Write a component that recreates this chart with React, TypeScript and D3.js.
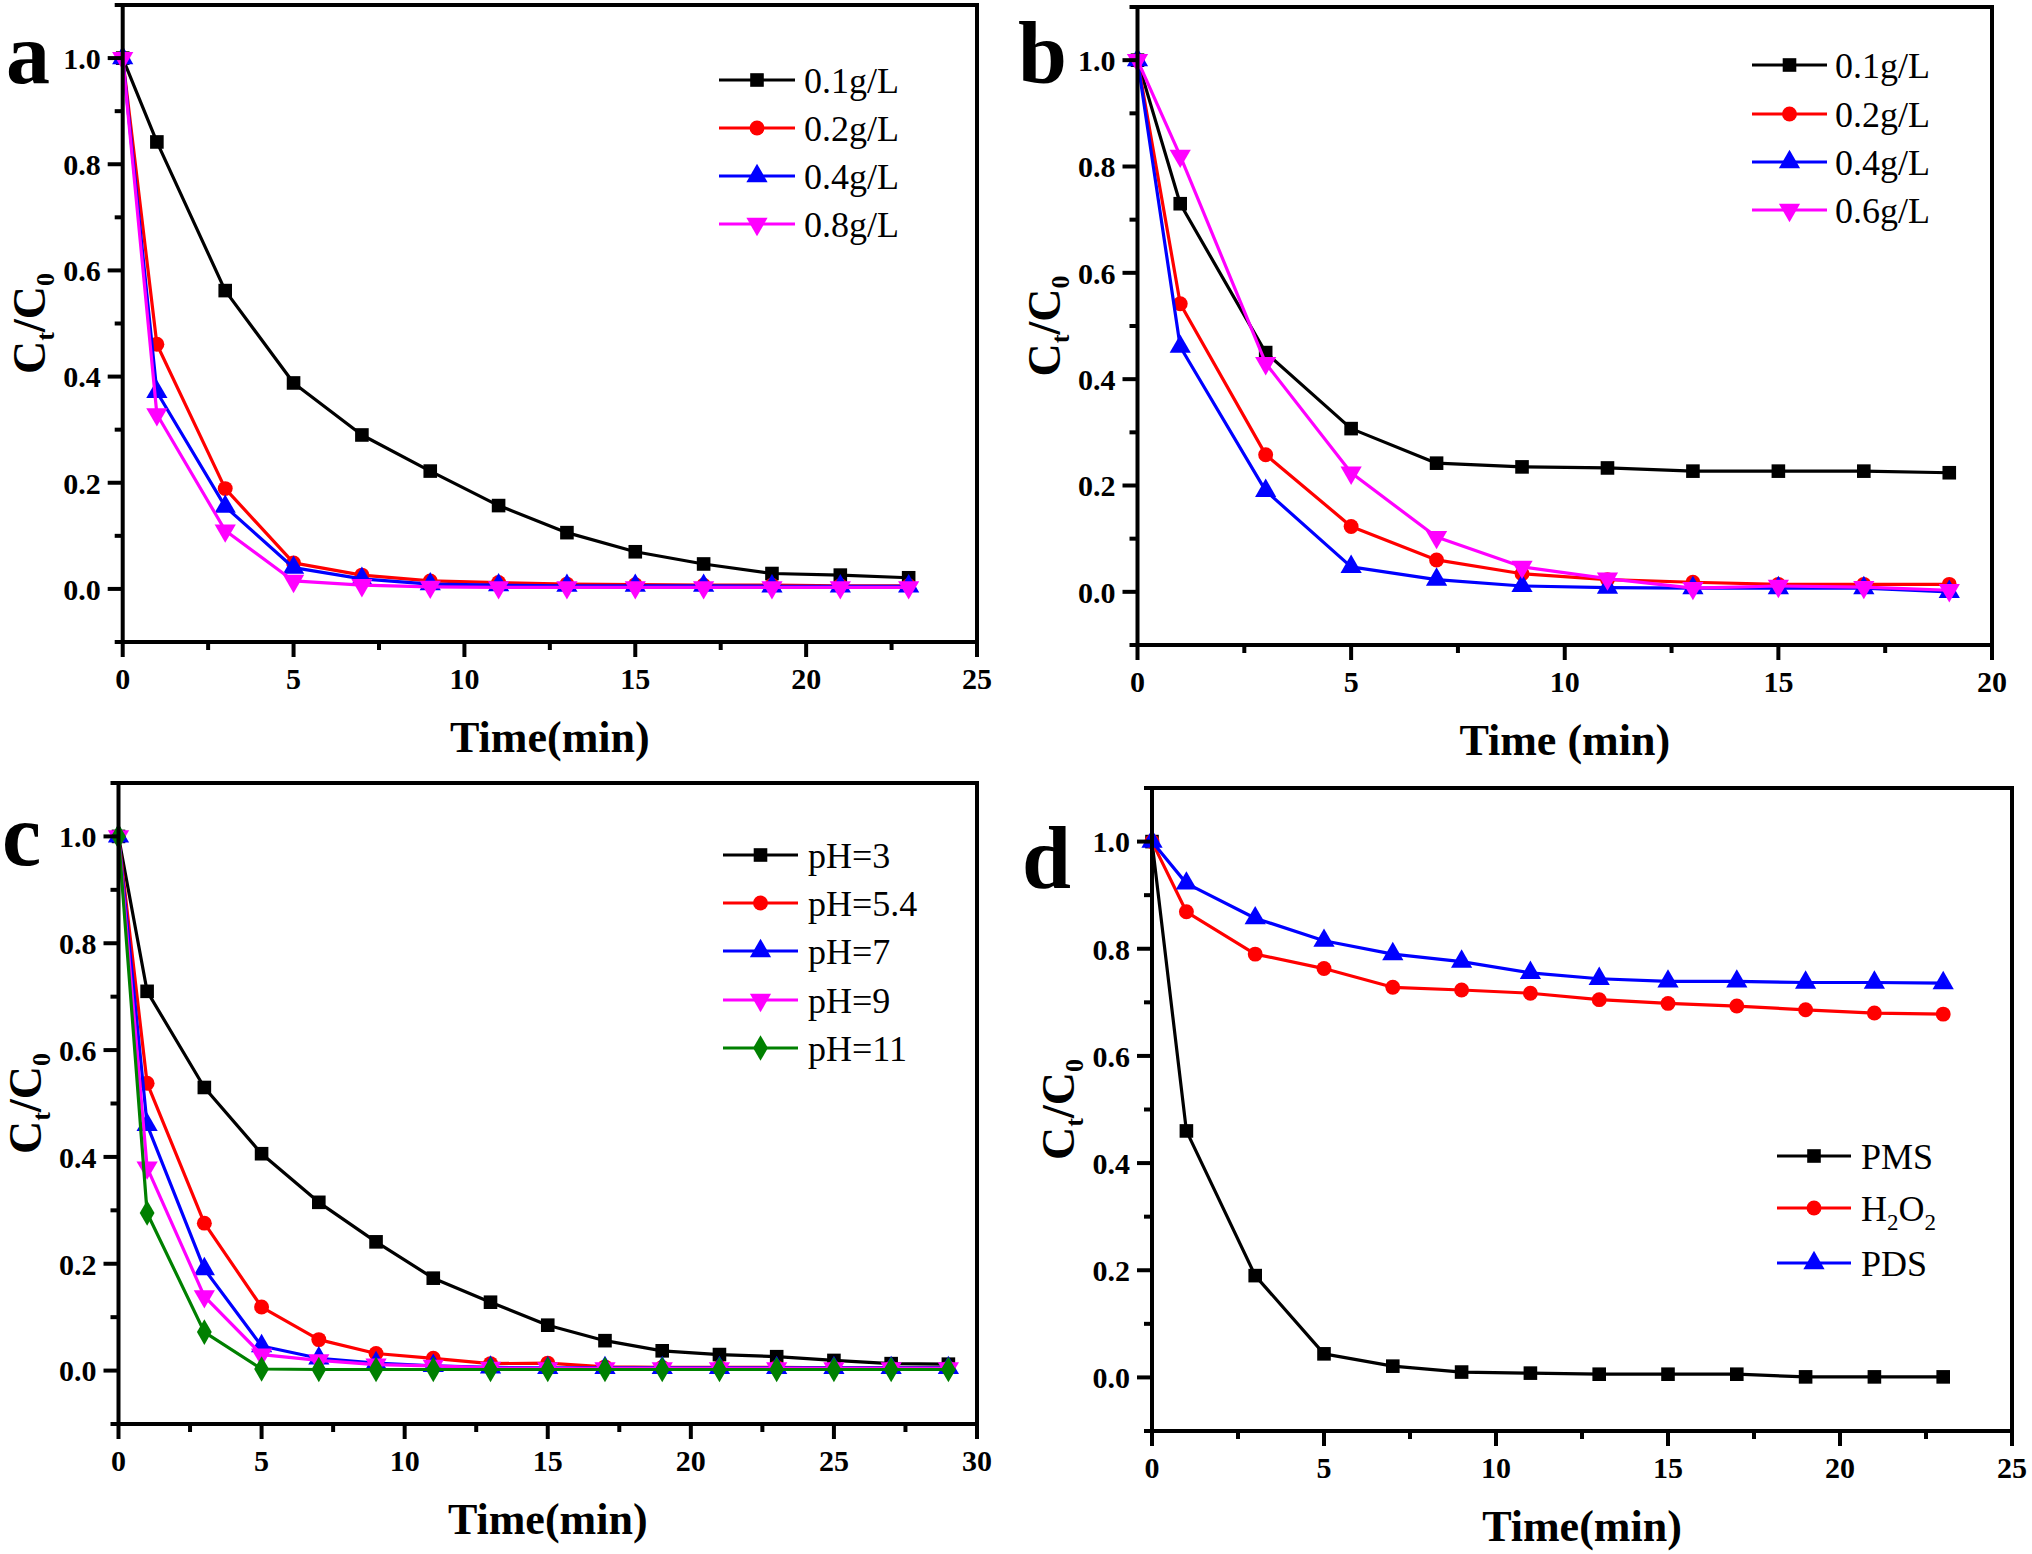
import * as d3 from "d3";

const W = 2032;
const H = 1554;
const FONT = "'Liberation Serif', 'Times New Roman', Times, serif";

// ---- data ----
const timeA = [0, 1, 3, 5, 7, 9, 11, 13, 15, 17, 19, 21, 23];
const a01 = [1.0, 0.842, 0.562, 0.388, 0.29, 0.222, 0.157, 0.106, 0.07, 0.047, 0.029, 0.026, 0.021];
const a02 = [1.0, 0.461, 0.189, 0.049, 0.026, 0.015, 0.012, 0.009, 0.008, 0.007, 0.007, 0.006, 0.006];
const a04 = [1.0, 0.371, 0.155, 0.04, 0.019, 0.009, 0.007, 0.006, 0.006, 0.006, 0.005, 0.005, 0.005];
const a08 = [1.0, 0.329, 0.11, 0.015, 0.007, 0.004, 0.003, 0.003, 0.003, 0.003, 0.003, 0.003, 0.003];
const legendA = ["0.1g/L", "0.2g/L", "0.4g/L", "0.8g/L"];

const timeB = [0, 1, 3, 5, 7, 9, 11, 13, 15, 17, 19];
const b01 = [1.0, 0.73, 0.45, 0.307, 0.242, 0.235, 0.233, 0.227, 0.227, 0.227, 0.224];
const b02 = [1.0, 0.542, 0.258, 0.123, 0.06, 0.034, 0.023, 0.018, 0.014, 0.014, 0.014];
const b04 = [1.0, 0.461, 0.19, 0.047, 0.023, 0.011, 0.008, 0.007, 0.007, 0.007, 0.0];
const b06 = [1.0, 0.82, 0.43, 0.224, 0.103, 0.047, 0.025, 0.007, 0.011, 0.009, 0.003];
const legendB = ["0.1g/L", "0.2g/L", "0.4g/L", "0.6g/L"];

const timeC = [0, 1, 3, 5, 7, 9, 11, 13, 15, 17, 19, 21, 23, 25, 27, 29];
const c3 = [1.0, 0.71, 0.53, 0.406, 0.315, 0.241, 0.173, 0.128, 0.085, 0.056, 0.037, 0.03, 0.026, 0.019, 0.013, 0.012];
const c54 = [1.0, 0.538, 0.276, 0.119, 0.058, 0.032, 0.023, 0.013, 0.014, 0.007, 0.006, 0.006, 0.006, 0.005, 0.005, 0.005];
const c7 = [1.0, 0.46, 0.19, 0.046, 0.023, 0.014, 0.009, 0.006, 0.005, 0.005, 0.005, 0.005, 0.005, 0.005, 0.005, 0.005];
const c9 = [1.0, 0.38, 0.139, 0.03, 0.019, 0.011, 0.009, 0.005, 0.004, 0.004, 0.004, 0.004, 0.004, 0.004, 0.004, 0.004];
const c11 = [1.0, 0.295, 0.072, 0.003, 0.002, 0.002, 0.002, 0.002, 0.002, 0.002, 0.002, 0.002, 0.002, 0.002, 0.002, 0.002];
const legendC = ["pH=3", "pH=5.4", "pH=7", "pH=9", "pH=11"];

const timeD = [0, 1, 3, 5, 7, 9, 11, 13, 15, 17, 19, 21, 23];
const dPMS = [1.0, 0.46, 0.19, 0.044, 0.021, 0.01, 0.008, 0.006, 0.006, 0.006, 0.001, 0.001, 0.001];
const dH2O2 = [1.0, 0.869, 0.79, 0.763, 0.728, 0.723, 0.717, 0.705, 0.698, 0.693, 0.686, 0.68, 0.678];
const dPDS = [1.0, 0.922, 0.857, 0.815, 0.79, 0.776, 0.755, 0.744, 0.739, 0.739, 0.737, 0.737, 0.736];
const legendD = ["PMS", "H2O2", "PDS"];

const yTicks = [0, 0.2, 0.4, 0.6, 0.8, 1.0];

type Shape = "square" | "circle" | "up" | "down" | "diamond";
type Series = { x: number[]; y: number[]; color: string; shape: Shape; label: string };

const symbolPath = (shape: Shape) => {
  if (shape === "square") return d3.symbol().type(d3.symbolSquare).size(185)()!;
  if (shape === "circle") return d3.symbol().type(d3.symbolCircle).size(175)()!;
  if (shape === "diamond") return d3.symbol().type(d3.symbolDiamond).size(190)()!;
  return d3.symbol().type(d3.symbolTriangle).size(195)()!;
};

const Marker = ({ x, y, shape, color }: { x: number; y: number; shape: Shape; color: string }) => (
  <path
    d={symbolPath(shape)}
    transform={`translate(${x},${y})${shape === "down" ? " rotate(180)" : ""}`}
    fill={color}
  />
);

type PanelProps = {
  box: { left: number; right: number; top: number; bottom: number };
  xMax: number;
  series: Series[];
  letter: { text: string; x: number; y: number };
  xTitle: string;
  legend: { x1: number; x2: number; tx: number; rows: number[] };
};

const LegendLabel = ({ label }: { label: string }) => {
  if (label === "H2O2") {
    return (
      <>
        H<tspan dy={9} fontSize={23}>2</tspan>
        <tspan dy={-9}>O</tspan>
        <tspan dy={9} fontSize={23}>2</tspan>
      </>
    );
  }
  return <>{label}</>;
};

const Panel = ({ box, xMax, series, letter, xTitle, legend }: PanelProps) => {
  const x = d3.scaleLinear().domain([0, xMax]).range([box.left, box.right]);
  const y = d3.scaleLinear().domain([-0.1, 1.1]).range([box.bottom, box.top]);
  const xMajor = d3.range(0, xMax + 0.01, 5);
  const xMinor = d3.range(2.5, xMax, 5);
  const yMinor = d3.range(-0.1, 1.11, 0.2);
  const line = d3
    .line<[number, number]>()
    .x((d) => x(d[0]))
    .y((d) => y(d[1]));
  const midY = (box.top + box.bottom) / 2;
  const midX = (box.left + box.right) / 2;

  return (
    <g>
      {/* series lines and markers */}
      {series.map((s, i) => (
        <g key={i}>
          <path
            d={line(s.x.map((t, j) => [t, s.y[j]] as [number, number])) ?? ""}
            fill="none"
            stroke={s.color}
            strokeWidth={3.2}
            strokeLinejoin="round"
          />
          {s.x.map((t, j) => (
            <Marker key={j} x={x(t)} y={y(s.y[j])} shape={s.shape} color={s.color} />
          ))}
        </g>
      ))}

      {/* frame */}
      <rect
        x={box.left}
        y={box.top}
        width={box.right - box.left}
        height={box.bottom - box.top}
        fill="none"
        stroke="#000"
        strokeWidth={4}
      />

      {/* y ticks */}
      {yTicks.map((v) => (
        <g key={v}>
          <line x1={box.left - 15} x2={box.left} y1={y(v)} y2={y(v)} stroke="#000" strokeWidth={4} />
          <text
            x={box.left - 22}
            y={y(v)}
            dy="0.36em"
            textAnchor="end"
            fontFamily={FONT}
            fontWeight="bold"
            fontSize={30}
          >
            {v.toFixed(1)}
          </text>
        </g>
      ))}
      {yMinor.map((v) => (
        <line key={v} x1={box.left - 8} x2={box.left} y1={y(v)} y2={y(v)} stroke="#000" strokeWidth={4} />
      ))}

      {/* x ticks */}
      {xMajor.map((v) => (
        <g key={v}>
          <line x1={x(v)} x2={x(v)} y1={box.bottom} y2={box.bottom + 15} stroke="#000" strokeWidth={4} />
          <text
            x={x(v)}
            y={box.bottom + 47}
            textAnchor="middle"
            fontFamily={FONT}
            fontWeight="bold"
            fontSize={30}
          >
            {v}
          </text>
        </g>
      ))}
      {xMinor.map((v) => (
        <line key={v} x1={x(v)} x2={x(v)} y1={box.bottom} y2={box.bottom + 8} stroke="#000" strokeWidth={4} />
      ))}

      {/* axis titles */}
      <text
        x={midX}
        y={box.bottom + 110}
        textAnchor="middle"
        fontFamily={FONT}
        fontWeight="bold"
        fontSize={44}
      >
        {xTitle}
      </text>
      <text
        transform={`translate(${box.left - 78},${midY}) rotate(-90)`}
        textAnchor="middle"
        fontFamily={FONT}
        fontWeight="bold"
        fontSize={46}
      >
        C<tspan dy={9} fontSize={26}>t</tspan>
        <tspan dy={-9}>/C</tspan>
        <tspan dy={9} fontSize={26}>0</tspan>
      </text>

      {/* panel letter */}
      <text x={letter.x} y={letter.y} fontFamily={FONT} fontWeight="bold" fontSize={88}>
        {letter.text}
      </text>

      {/* legend */}
      {series.map((s, i) => (
        <g key={i}>
          <line
            x1={legend.x1}
            x2={legend.x2}
            y1={legend.rows[i]}
            y2={legend.rows[i]}
            stroke={s.color}
            strokeWidth={3.2}
          />
          <Marker x={(legend.x1 + legend.x2) / 2} y={legend.rows[i]} shape={s.shape} color={s.color} />
          <text x={legend.tx} y={legend.rows[i]} dy="0.36em" fontFamily={FONT} fontSize={36}>
            <LegendLabel label={s.label} />
          </text>
        </g>
      ))}
    </g>
  );
};

const App = () => {
  const seriesA: Series[] = [
    { x: timeA, y: a01, color: "#000000", shape: "square", label: legendA[0] },
    { x: timeA, y: a02, color: "#ff0000", shape: "circle", label: legendA[1] },
    { x: timeA, y: a04, color: "#0000ff", shape: "up", label: legendA[2] },
    { x: timeA, y: a08, color: "#ff00ff", shape: "down", label: legendA[3] },
  ];
  const seriesB: Series[] = [
    { x: timeB, y: b01, color: "#000000", shape: "square", label: legendB[0] },
    { x: timeB, y: b02, color: "#ff0000", shape: "circle", label: legendB[1] },
    { x: timeB, y: b04, color: "#0000ff", shape: "up", label: legendB[2] },
    { x: timeB, y: b06, color: "#ff00ff", shape: "down", label: legendB[3] },
  ];
  const seriesC: Series[] = [
    { x: timeC, y: c3, color: "#000000", shape: "square", label: legendC[0] },
    { x: timeC, y: c54, color: "#ff0000", shape: "circle", label: legendC[1] },
    { x: timeC, y: c7, color: "#0000ff", shape: "up", label: legendC[2] },
    { x: timeC, y: c9, color: "#ff00ff", shape: "down", label: legendC[3] },
    { x: timeC, y: c11, color: "#008000", shape: "diamond", label: legendC[4] },
  ];
  const seriesD: Series[] = [
    { x: timeD, y: dPMS, color: "#000000", shape: "square", label: legendD[0] },
    { x: timeD, y: dH2O2, color: "#ff0000", shape: "circle", label: legendD[1] },
    { x: timeD, y: dPDS, color: "#0000ff", shape: "up", label: legendD[2] },
  ];

  return (
    <svg
      width={W}
      height={H}
      viewBox={`0 0 ${W} ${H}`}
      style={{ position: "absolute", left: 0, top: 0, background: "#fff" }}
    >
      <rect width={W} height={H} fill="#fff" />
      <Panel
        box={{ left: 122.7, right: 977, top: 5, bottom: 642 }}
        xMax={25}
        series={seriesA}
        letter={{ text: "a", x: 6, y: 83 }}
        xTitle="Time(min)"
        legend={{ x1: 719, x2: 795, tx: 804, rows: [80, 128, 176, 224] }}
      />
      <Panel
        box={{ left: 1137.5, right: 1992, top: 7, bottom: 645 }}
        xMax={20}
        series={seriesB}
        letter={{ text: "b", x: 1018, y: 83 }}
        xTitle="Time (min)"
        legend={{ x1: 1752, x2: 1827, tx: 1835, rows: [65, 114, 162, 210] }}
      />
      <Panel
        box={{ left: 118.5, right: 977, top: 783, bottom: 1424 }}
        xMax={30}
        series={seriesC}
        letter={{ text: "c", x: 2, y: 865 }}
        xTitle="Time(min)"
        legend={{ x1: 723, x2: 798, tx: 808, rows: [855, 903, 951, 1000, 1048] }}
      />
      <Panel
        box={{ left: 1152, right: 2012, top: 788, bottom: 1431 }}
        xMax={25}
        series={seriesD}
        letter={{ text: "d", x: 1022, y: 888 }}
        xTitle="Time(min)"
        legend={{ x1: 1777, x2: 1851, tx: 1861, rows: [1156, 1208, 1263] }}
      />
    </svg>
  );
};

export default App;
